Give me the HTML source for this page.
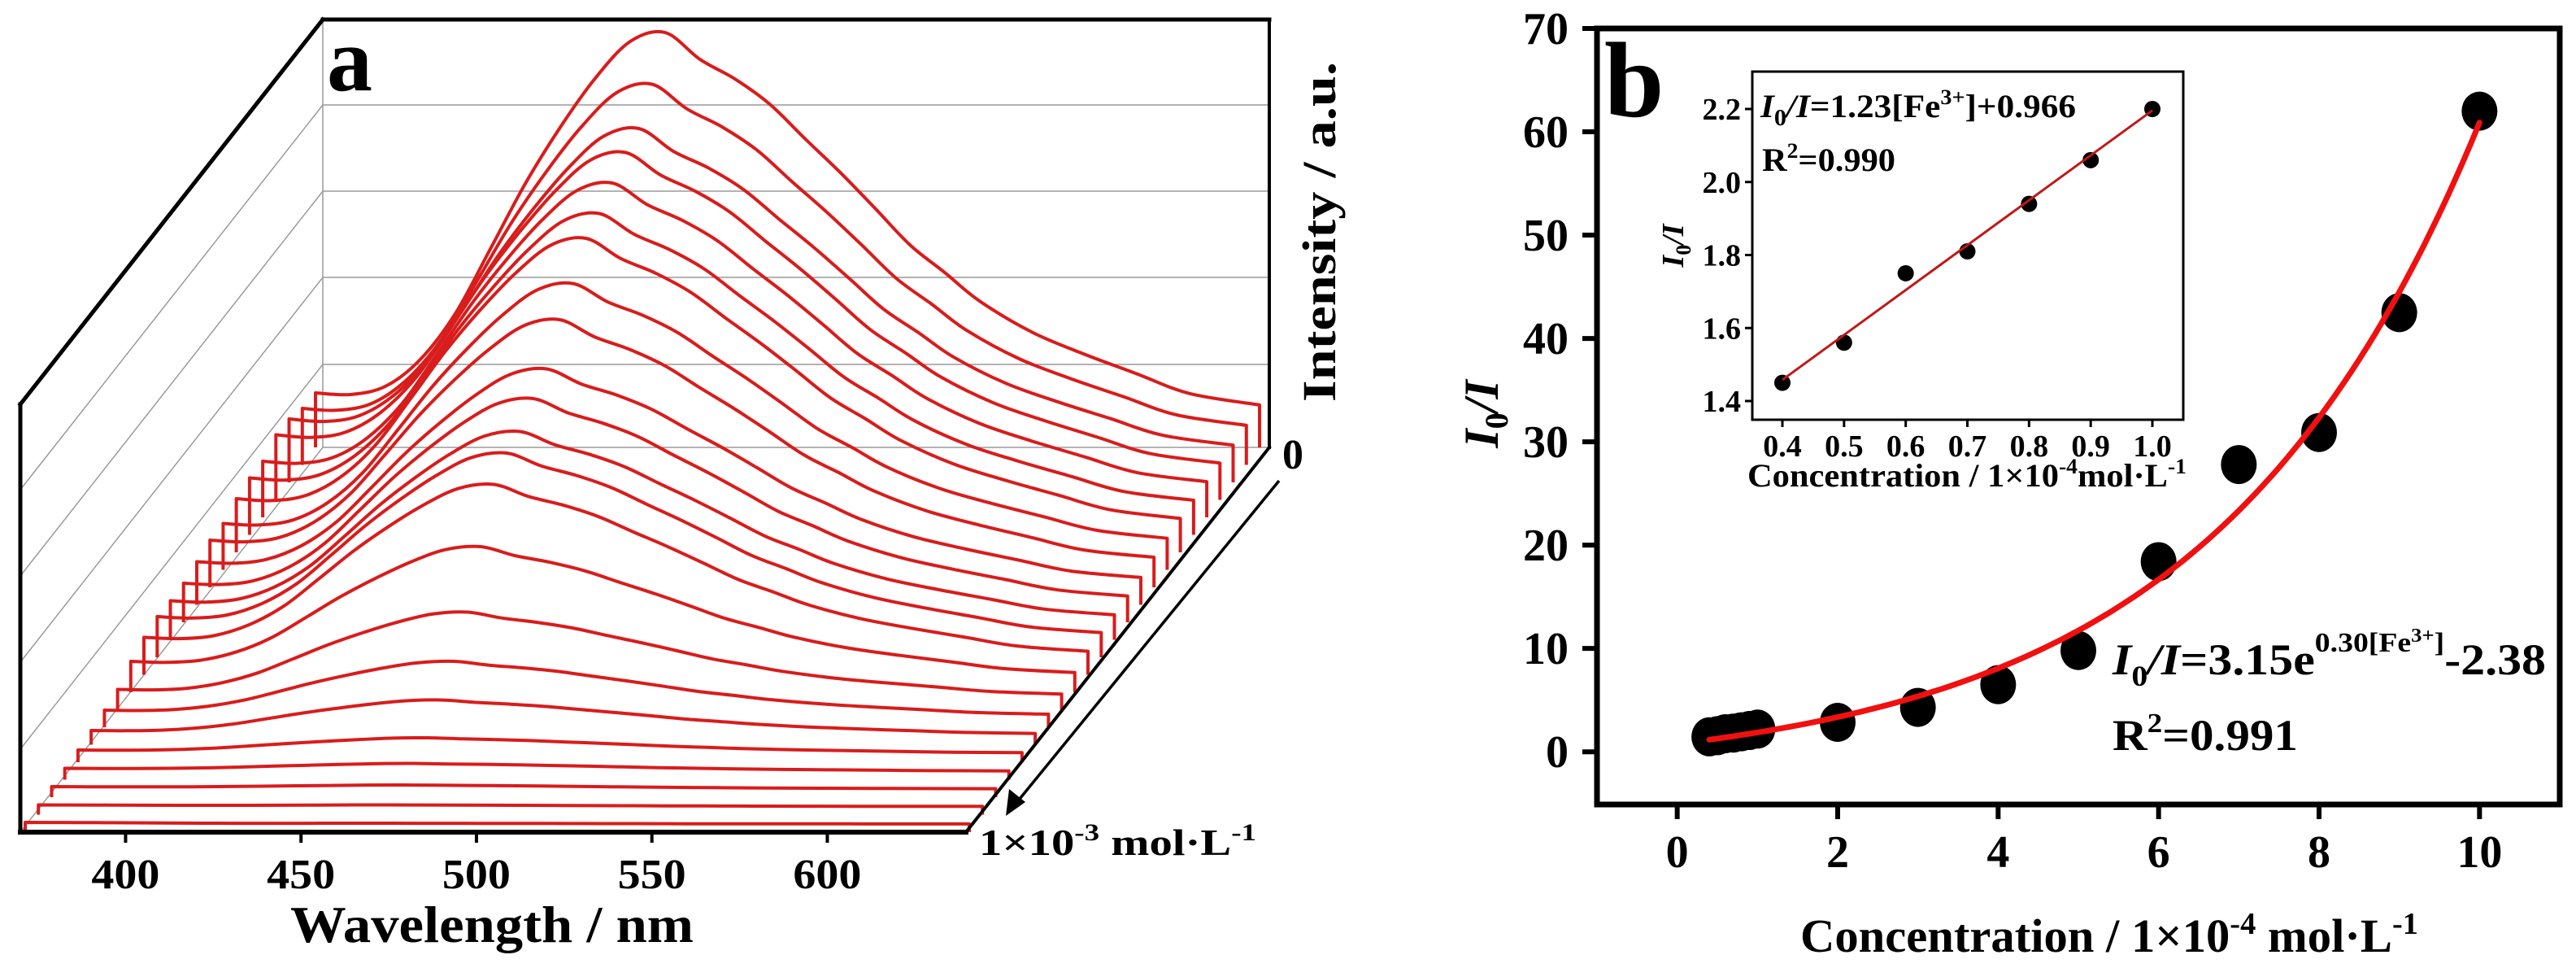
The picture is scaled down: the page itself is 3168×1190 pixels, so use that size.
<!DOCTYPE html>
<html><head><meta charset="utf-8"><title>Fluorescence quenching by Fe3+</title>
<style>
html,body{margin:0;padding:0;background:#fff;}
svg{display:block;font-family:"Liberation Serif","DejaVu Serif",serif;font-weight:bold;}
</style></head>
<body>
<svg id="fig" xmlns="http://www.w3.org/2000/svg" width="3168" height="1190" viewBox="0 0 3168 1190">
  <rect x="0" y="0" width="3168" height="1190" fill="#fff"/>
  <g id="panelA">
    <g stroke="#9a9a9a" stroke-width="1.5" fill="none">
      <line x1="397" y1="24" x2="397" y2="550"/>
      <line x1="397" y1="129" x2="1561" y2="129"/>
      <line x1="397" y1="235" x2="1561" y2="235"/>
      <line x1="397" y1="341" x2="1561" y2="341"/>
      <line x1="397" y1="448" x2="1561" y2="448"/>
      <line x1="397" y1="550" x2="1561" y2="550"/>
      <line x1="397" y1="129" x2="25" y2="602"/>
      <line x1="397" y1="235" x2="25" y2="708"/>
      <line x1="397" y1="341" x2="25" y2="814"/>
      <line x1="397" y1="448" x2="25" y2="921"/>
      <line x1="397" y1="550" x2="25" y2="1023"/>
    </g>
    <g id="spectra"></g>
    <g stroke="#000" fill="none" stroke-linecap="square">
      <line x1="25" y1="1023" x2="25" y2="497" stroke-width="5"/>
      <line x1="25" y1="497" x2="397" y2="24" stroke-width="5"/>
      <line x1="397" y1="24" x2="1561" y2="24" stroke-width="5"/>
      <line x1="1561" y1="24" x2="1561" y2="550" stroke-width="4"/>
      <line x1="1561" y1="550" x2="1188" y2="1023" stroke-width="4"/>
      <line x1="25" y1="1023" x2="1188" y2="1023" stroke-width="6"/>
    </g>
    <g id="axA"></g>
    <text x="605" y="1158" font-size="64" text-anchor="middle" textLength="496" lengthAdjust="spacingAndGlyphs">Wavelength / nm</text>
    <text x="402" y="111" font-size="112">a</text>
    <text transform="translate(1642,285) rotate(-90)" font-size="58" text-anchor="middle" textLength="418" lengthAdjust="spacingAndGlyphs">Intensity / a.u.</text>
    <line x1="1573" y1="591" x2="1250" y2="987" stroke="#000" stroke-width="3.5"/>
    <polygon points="1237,1003 1241,970 1261,986" fill="#000"/>
    <text x="1577" y="576" font-size="52">0</text>
    <text x="1204" y="1051" font-size="46" textLength="341" lengthAdjust="spacingAndGlyphs">1×10<tspan dy="-18" font-size="30">-3</tspan><tspan dy="18"> mol·L</tspan><tspan dy="-18" font-size="30">-1</tspan></text>
  </g>

  <g id="panelB">
    <g id="axB"></g>
    <g id="markB"></g>
    <text x="1973" y="143" font-size="132">b</text>
    <text transform="translate(1842,509) rotate(-90)" font-size="60" text-anchor="middle"><tspan font-style="italic">I</tspan><tspan dy="12" font-size="40">0</tspan><tspan dy="-12" font-style="italic">/I</tspan></text>
    <text x="2594" y="1170" font-size="58" text-anchor="middle" textLength="760" lengthAdjust="spacingAndGlyphs">Concentration / 1×10<tspan dy="-22" font-size="38">-4</tspan><tspan dy="22"> mol·L</tspan><tspan dy="-22" font-size="38">-1</tspan></text>
    <text x="2598" y="829" font-size="54" textLength="533" lengthAdjust="spacingAndGlyphs"><tspan font-style="italic">I</tspan><tspan dy="14" font-size="36">0</tspan><tspan dy="-14" font-style="italic">/I</tspan>=3.15e<tspan dy="-28" font-size="34">0.30[Fe</tspan><tspan dy="-12" font-size="24">3+</tspan><tspan dy="12" font-size="34">]</tspan><tspan dy="28">-2.38</tspan></text>
    <text x="2598" y="922" font-size="54" textLength="228" lengthAdjust="spacingAndGlyphs">R<tspan dy="-22" font-size="34">2</tspan><tspan dy="22">=0.991</tspan></text>

    <g id="inset">
      <rect x="2155" y="88" width="530" height="428" fill="#fff" stroke="#000" stroke-width="3"/>
      <g id="axI"></g>
      <g id="markI"></g>
      <text x="2165" y="144" font-size="40" textLength="388" lengthAdjust="spacingAndGlyphs"><tspan font-style="italic">I</tspan><tspan dy="10" font-size="28">0</tspan><tspan dy="-10" font-style="italic">/I</tspan>=1.23[Fe<tspan dy="-16" font-size="26">3+</tspan><tspan dy="16">]+0.966</tspan></text>
      <text x="2167" y="210" font-size="40" textLength="164" lengthAdjust="spacingAndGlyphs">R<tspan dy="-16" font-size="26">2</tspan><tspan dy="16">=0.990</tspan></text>
      <text transform="translate(2070,302) rotate(-90)" font-size="38" text-anchor="middle"><tspan font-style="italic">I</tspan><tspan dy="9" font-size="26">0</tspan><tspan dy="-9" font-style="italic">/I</tspan></text>
      <text x="2419" y="598" font-size="40" text-anchor="middle" textLength="540" lengthAdjust="spacingAndGlyphs">Concentration / 1×10<tspan dy="-16" font-size="26">-4</tspan><tspan dy="16">mol·L</tspan><tspan dy="-16" font-size="26">-1</tspan></text>
    </g>
  </g>
</svg>
<script>
// ---------- Panel a data ----------
const specWavelengths = [370,380,390,400,410,420,430,440,450,460,470,480,490,500,510,520,530,540,550,560,575,590,605,620,640];
const refSpectrum = [134,130,150,216,328,486,646,784,904,994,1016,950,902,840,756,674,586,496,428,358,282,228,180,132,104];
const shoulderProfile = [1,0.93,0.85,0.7,0.5,0.3,0.15,0.05,0,0,0,0,0,0,0,0,0,0,0,0,0,0,0,0,0];
const curvePeaks = [1020,936,870,854,822,790,772,704,658,580,550,512,502,468,358,240,162,110,60,40,30,24,22];
const curveShoulders = [134,139,156,160,138,140,132,114,116,106,96,96,100,92,76,50,42,35,30,28,26,24,24];
const waveTicks = [400,450,500,550,600];
const FLOOR = 20;

const NS = "http://www.w3.org/2000/svg";
function mk(tag, attrs, parent){ const e=document.createElementNS(NS,tag); for(const k in attrs) e.setAttribute(k,attrs[k]); parent.appendChild(e); return e; }

const nCurves = curvePeaks.length;
function projX(lambda, i){ return 388 - i*(357/(nCurves-1)) + (lambda-370)*4.3; }
function projY(val, i){ return 550 + i*(473/(nCurves-1)) - val*0.5; }
function frontX(lambda){ return 25 + (lambda-370)*4.315; }

function smoothPath(pts){
  let d = "M"+pts[0][0].toFixed(1)+","+pts[0][1].toFixed(1);
  for(let k=0;k<pts.length-1;k++){
    const p0 = pts[Math.max(k-1,0)], p1 = pts[k], p2 = pts[k+1], p3 = pts[Math.min(k+2,pts.length-1)];
    const c1x = p1[0]+(p2[0]-p0[0])/6, c1y = p1[1]+(p2[1]-p0[1])/6;
    const c2x = p2[0]-(p3[0]-p1[0])/6, c2y = p2[1]-(p3[1]-p1[1])/6;
    d += " C"+c1x.toFixed(1)+","+c1y.toFixed(1)+" "+c2x.toFixed(1)+","+c2y.toFixed(1)+" "+p2[0].toFixed(1)+","+p2[1].toFixed(1);
  }
  return d;
}

const spectraG = document.getElementById('spectra');
const refPeak = 1016;
for(let i=0;i<nCurves;i++){
  const pts = [];
  for(let k=0;k<specWavelengths.length;k++){
    const sh = shoulderProfile[k];
    const pn = (refSpectrum[k] - FLOOR - (refSpectrum[0]-FLOOR)*sh)/(refPeak - FLOOR);
    const v = FLOOR + (curveShoulders[i]-FLOOR)*sh + (curvePeaks[i]-FLOOR)*Math.max(pn,0);
    pts.push([projX(specWavelengths[k],i), projY(v,i)]);
  }
  let d = "M"+projX(370,i).toFixed(1)+","+projY(0,i).toFixed(1)+" L"+pts[0][0].toFixed(1)+","+pts[0][1].toFixed(1);
  d += smoothPath(pts).replace(/^M[^C]*/, " ");
  d += " L"+projX(640,i).toFixed(1)+","+projY(0,i).toFixed(1);
  const p = mk('path',{d:d,fill:'none',stroke:'#d91c1c','stroke-width':4,'stroke-linejoin':'round'},spectraG);
  
  
}
const axA = document.getElementById('axA');
waveTicks.forEach(w=>{
  const t = mk('line',{x1:frontX(w),y1:1023,x2:frontX(w),y2:1036,stroke:'#000','stroke-width':4},axA);
  
  
  const l = mk('text',{x:frontX(w),y:1092,'font-size':52,'text-anchor':'middle',textLength:84,lengthAdjust:'spacingAndGlyphs'},axA);
  l.textContent = String(w);
  
  
});

// ---------- Panel b data ----------
const concentrations = [0.4,0.5,0.6,0.7,0.8,0.9,1.0,2,3,4,5,6,7,8,9,10];
const ratioValues = [1.45,1.56,1.75,1.81,1.94,2.06,2.2,2.85,4.3,6.5,9.8,18.4,27.8,30.9,42.5,62.0];
const xTicksMain = [0,2,4,6,8,10];
const yTicksMain = [0,10,20,30,40,50,60,70];
const fitA = 3.15, fitK = 0.30, fitC = -2.38;
const insetConc = [0.4,0.5,0.6,0.7,0.8,0.9,1.0];
const insetRatio = [1.45,1.56,1.75,1.81,1.94,2.06,2.2];
const xTicksInset = [0.4,0.5,0.6,0.7,0.8,0.9,1.0];
const yTicksInset = [1.4,1.6,1.8,2.0,2.2];
const linSlope = 1.23, linIntercept = 0.966;

const MX0=1964, MX1=3148, MY0=989, MY1=35;
const xmin=-1, xmax=11, ymin=-5.1, ymax=70;
function sx(v){ return MX0 + (v-xmin)/(xmax-xmin)*(MX1-MX0); }
function sy(v){ return MY0 - (v-ymin)/(ymax-ymin)*(MY0-MY1); }

const axB = document.getElementById('axB');
let fr = mk('path',{d:`M${MX0},${MY1} L${MX1},${MY1} L${MX1},${MY0} L${MX0},${MY0} Z`,fill:'none',stroke:'#000','stroke-width':7},axB);


xTicksMain.forEach(v=>{
  const t = mk('line',{x1:sx(v),y1:MY0,x2:sx(v),y2:MY0+18,stroke:'#000','stroke-width':6},axB);
  
  
  const l = mk('text',{x:sx(v),y:1066,'font-size':56,'text-anchor':'middle'},axB);
  l.textContent = String(v);
  
  
});
yTicksMain.forEach(v=>{
  const t = mk('line',{x1:MX0-18,y1:sy(v),x2:MX0,y2:sy(v),stroke:'#000','stroke-width':6},axB);
  
  
  const l = mk('text',{x:1929,y:sy(v)+19,'font-size':56,'text-anchor':'end'},axB);
  l.textContent = String(v);
  
  
});
const markB = document.getElementById('markB');
concentrations.forEach((c,i)=>{
  const e = mk('ellipse',{cx:sx(c),cy:sy(ratioValues[i]),rx:22,ry:24,fill:'#000'},markB);
  
  
});
let fd = "";
for(let k=0;k<=96;k++){
  const c = 0.4 + k*0.1;
  fd += (k?" L":"M")+sx(c).toFixed(1)+","+sy(fitA*Math.exp(fitK*c)+fitC).toFixed(1);
}
const fitPath = mk('path',{d:fd,fill:'none',stroke:'#f01010','stroke-width':7,'stroke-linecap':'round'},markB);



const IX0=2155, IX1=2685, IY0=516, IY1=88;
function ix(v){ return 2192 + (v-0.4)/0.6*(2647-2192); }
function iy(v){ return 493 - (v-1.4)/0.8*(493-134); }
const axI = document.getElementById('axI');
xTicksInset.forEach(v=>{
  const t = mk('line',{x1:ix(v),y1:IY0,x2:ix(v),y2:IY0+9,stroke:'#000','stroke-width':3},axI);
  
  
  const l = mk('text',{x:ix(v),y:561,'font-size':38,'text-anchor':'middle'},axI);
  l.textContent = v.toFixed(1);
  
  
});
yTicksInset.forEach(v=>{
  const t = mk('line',{x1:IX0-9,y1:iy(v),x2:IX0,y2:iy(v),stroke:'#000','stroke-width':3},axI);
  
  
  const l = mk('text',{x:2141,y:iy(v)+13,'font-size':38,'text-anchor':'end'},axI);
  l.textContent = v.toFixed(1);
  
  
});
const markI = document.getElementById('markI');
const lf = mk('line',{x1:ix(0.4),y1:iy(linSlope*0.4+linIntercept),x2:ix(1.0),y2:iy(linSlope*1.0+linIntercept),stroke:'#c01818','stroke-width':3},markI);


insetConc.forEach((c,i)=>{
  const e = mk('circle',{cx:ix(c),cy:iy(insetRatio[i]),r:10,fill:'#000'},markI);
  
  
});
markI.appendChild(lf);
</script>
</body></html>
